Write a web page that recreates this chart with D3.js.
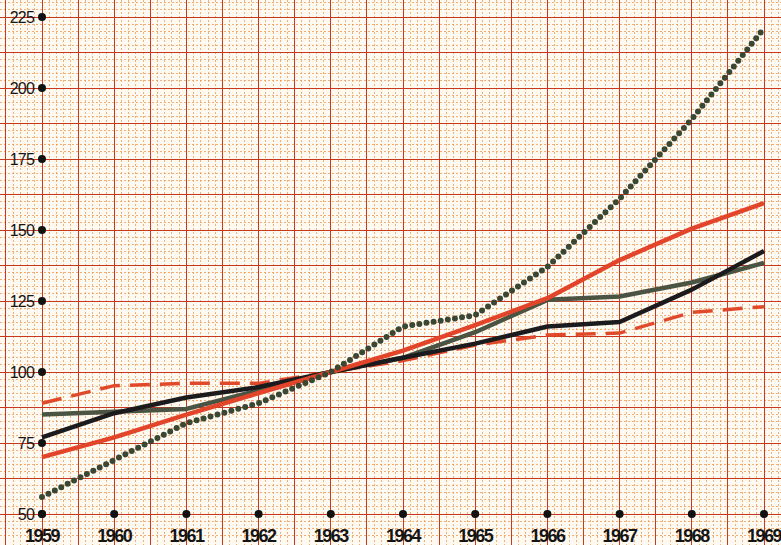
<!DOCTYPE html>
<html>
<head>
<meta charset="utf-8">
<script src="https://cdn.jsdelivr.net/npm/d3@7"></script>
<style>
  body { margin: 0; background: #fcf6ec; }
  svg { display: block; }
</style>
</head>
<body>
<div id="chart"></div>
<script>
// data (index, 1963 = 100)
var years = [1959, 1960, 1961, 1962, 1963, 1964, 1965, 1966, 1967, 1968, 1969];
var yTicks = [50, 75, 100, 125, 150, 175, 200, 225];
var dottedGreen = [56, 69, 82, 89, 100, 116, 120, 137, 161, 189, 221];
var solidRed = [70, 77, 85, 92.6, 100, 107.5, 116.5, 126, 139.4, 150.5, 159.5];
var grayGreen = [85, 86, 87, 93.5, 100, 105, 114, 125.4, 126.6, 131.5, 138.4];
var blackLine = [77, 85.5, 91, 94.7, 100, 105, 110, 116, 117.6, 129, 142.6];
var dashedRed = [89, 95.2, 96, 96, 100, 104, 109.5, 113, 113.7, 121, 123];

var width = 781;
var height = 545;

var svg = d3.select("#chart")
    .append("svg")
    .attr("width", width)
    .attr("height", height);

var xScale = d3.scaleLinear()
    .domain([1959, 1969])
    .range([42, 764]);

var yScale = d3.scaleLinear()
    .domain([50, 225])
    .range([514, 17]);

// graph paper background
svg.append("rect")
    .attr("width", width)
    .attr("height", height)
    .attr("fill", "#fefaf2");

var grid = svg.append("g")
    .attr("shape-rendering", "crispEdges");

// fine lines
d3.range(1958.4, 1969.65, 0.1).forEach(function(v){
    grid.append("line")
        .attr("x1", xScale(v)).attr("x2", xScale(v))
        .attr("y1", 0).attr("y2", height)
        .attr("stroke", "#ef9650")
        .attr("stroke-width", 1)
        .attr("stroke-dasharray", "2,2")
        .attr("opacity", 0.75);
});
d3.range(42.5, 242, 2.5).forEach(function(v){
    grid.append("line")
        .attr("y1", yScale(v)).attr("y2", yScale(v))
        .attr("x1", 0).attr("x2", width)
        .attr("stroke", "#ef9650")
        .attr("stroke-width", 1)
        .attr("stroke-dasharray", "2,2")
        .attr("opacity", 0.75);
});

// heavier lines every half year / 12.5 units
d3.range(1958.5, 1970, 0.5).forEach(function(v){
    grid.append("line")
        .attr("x1", xScale(v)).attr("x2", xScale(v))
        .attr("y1", 0).attr("y2", height)
        .attr("stroke", "#c7381f")
        .attr("stroke-width", 1);
});
d3.range(37.5, 250, 12.5).forEach(function(v){
    grid.append("line")
        .attr("y1", yScale(v)).attr("y2", yScale(v))
        .attr("x1", 0).attr("x2", width)
        .attr("stroke", "#c7381f")
        .attr("stroke-width", 1);
});

// axis dots and labels
svg.selectAll(".ydot")
    .data(yTicks)
    .enter()
    .append("circle")
    .attr("cx", xScale(1959))
    .attr("cy", function(d){ return yScale(d); })
    .attr("r", 4)
    .attr("fill", "#111");

svg.selectAll(".ylab")
    .data(yTicks)
    .enter()
    .append("text")
    .attr("x", xScale(1959) - 8)
    .attr("y", function(d){ return yScale(d) + 6; })
    .attr("text-anchor", "end")
    .attr("font-family", "Liberation Sans, Arial, sans-serif")
    .attr("font-size", 16)
    .attr("letter-spacing", -0.8)
    .attr("fill", "#151515")
    .text(function(d){ return d; });

svg.selectAll(".xdot")
    .data(years)
    .enter()
    .append("circle")
    .attr("cx", function(d){ return xScale(d); })
    .attr("cy", yScale(50))
    .attr("r", 4)
    .attr("fill", "#111");

svg.selectAll(".xlab")
    .data(years)
    .enter()
    .append("text")
    .attr("x", function(d){ return xScale(d); })
    .attr("y", 542)
    .attr("text-anchor", "middle")
    .attr("font-family", "Liberation Sans, Arial, sans-serif")
    .attr("font-weight", "bold")
    .attr("font-size", 18)
    .attr("letter-spacing", -1.5)
    .attr("fill", "#151515")
    .text(function(d){ return d; });

// the series
var line = d3.line()
    .x(function(d, i){ return xScale(years[i]); })
    .y(function(d){ return yScale(d); });

svg.append("path")
    .attr("d", line(dashedRed))
    .attr("fill", "none")
    .attr("stroke", "#e04a2a")
    .attr("stroke-width", 3.5)
    .attr("stroke-dasharray", "20,10");

svg.append("path")
    .attr("d", line(grayGreen))
    .attr("fill", "none")
    .attr("stroke", "#4b5343")
    .attr("stroke-width", 4.5)
    .attr("stroke-linejoin", "round");

svg.append("path")
    .attr("d", line(blackLine))
    .attr("fill", "none")
    .attr("stroke", "#1b1b1d")
    .attr("stroke-width", 4.5)
    .attr("stroke-linejoin", "round");

svg.append("path")
    .attr("d", line(solidRed))
    .attr("fill", "none")
    .attr("stroke", "#e2452a")
    .attr("stroke-width", 4.5)
    .attr("stroke-linejoin", "round");

svg.append("path")
    .attr("d", line(dottedGreen))
    .attr("fill", "none")
    .attr("stroke", "#3a4733")
    .attr("stroke-width", 6)
    .attr("stroke-linecap", "round")
    .attr("stroke-dasharray", "0,7.2");
</script>
</body>
</html>
